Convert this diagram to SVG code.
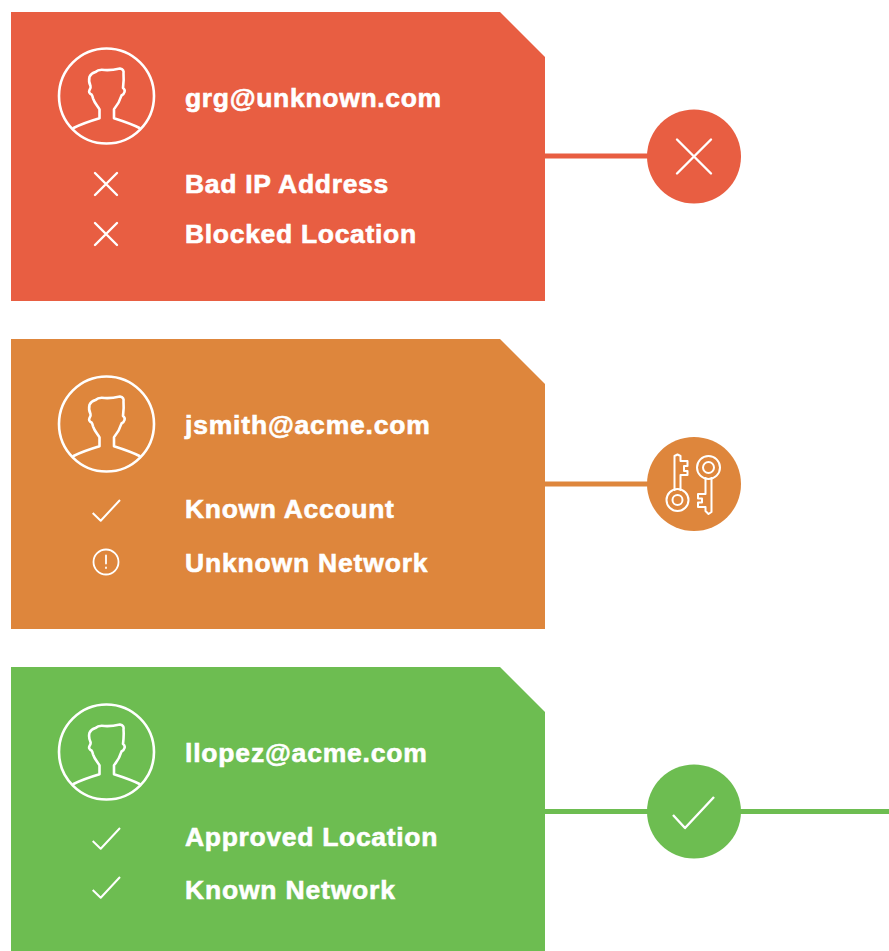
<svg xmlns="http://www.w3.org/2000/svg" width="889" height="951" viewBox="0 0 889 951">
<defs>
<style>
.t{font-family:"Liberation Sans",Arial,sans-serif;font-weight:700;font-size:26.5px;letter-spacing:.68px;fill:#fff;stroke:#fff;stroke-width:.6px}
.w{letter-spacing:.81px}
.i{fill:none;stroke:#fff;stroke-width:2.4;stroke-linejoin:round;stroke-linecap:round}
.m{fill:none;stroke:#fff;stroke-width:2;stroke-linejoin:round}
.c{stroke-width:5;fill:none}
</style>
<g id="person" class="i" style="stroke-width:2.6">
<circle cx="0" cy="0" r="47.500"/>
<path d="M-33 32C-25 28 -16 25 -7 22.300V13.300C-9 10 -12 7 -13.500 2.300C-14 0 -14.500 -1 -15 -1.500C-17.500 -2.500 -17.800 -4.500 -17 -6C-16 -7.500 -15.500 -8.500 -16 -10C-17.500 -13 -17.800 -16 -17 -19.300C-15.500 -22.500 -13 -23.500 -11 -24C-8.500 -26.500 -5 -26.500 -2 -26C4 -25.500 9 -26.500 13.500 -27.500C16.500 -27 17.500 -25 17 -22.500C17.500 -17 17 -12 16.500 -8C18 -7 18.500 -5.500 18 -4C17.500 -2 16 -1 15 -.5C14 3 11 9 7.500 13.300V22.300C16 25 25 28 33 32"/>
</g>
<path id="x" class="i" d="M-11 -11L11 11M11 -11L-11 11"/>
<path id="check" class="m" d="M-13.300 3L-5.300 10.700L14 -10"/>
</defs>

<g id="connectors">
<path class="c" stroke="#e85e42" d="M545 156H650"/>
<path class="c" stroke="#de863c" d="M545 484H650"/>
<path class="c" stroke="#6dbd51" d="M545 811.500H889"/>
</g>

<g id="node-grg">
<path fill="#e85e42" d="M11 12H500L545 57V301H11Z"/>
<use href="#person" x="106.500" y="96"/>
<text class="t" x="185" y="107">grg@unknown.com</text>
<use href="#x" x="106" y="184"/>
<text class="t" x="185" y="193">Bad IP Address</text>
<use href="#x" x="106" y="234"/>
<text class="t" x="185" y="243">Blocked Location</text>
</g>

<g id="status-blocked">
<circle cx="694" cy="156.500" r="47" fill="#e85e42"/>
<path class="i" d="M677 139.500L711 173.500M711 139.500L677 173.500"/>
</g>

<g id="node-jsmith">
<path fill="#de863c" d="M11 339H500L545 384V629H11Z"/>
<use href="#person" x="106.500" y="424"/>
<text class="t w" x="185" y="434">jsmith@acme.com</text>
<use href="#check" x="106" y="510"/>
<text class="t" x="185" y="518">Known Account</text>
<g class="i" style="stroke-width:1.800">
<circle cx="106" cy="562" r="12.500"/>
<path d="M106 555.500V563.500M106 567.500V568"/>
</g>
<text class="t w" x="185" y="572">Unknown Network</text>
</g>

<g id="status-keys">
<circle cx="694" cy="484" r="47" fill="#de863c"/>
<g class="i" style="stroke-width:2">
<path d="M674.500 490V456L677.500 454.500L680.500 456V461H687.500V466H684V471H687.500V475H680.500V490"/>
<circle cx="677.500" cy="500" r="11"/>
<circle cx="677.500" cy="500" r="5"/>
<path d="M711.500 478V512L708.500 514L705.500 511V507H698V502.500H702V498.500H698V494H705.500V478"/>
<circle cx="708.500" cy="467.500" r="11.500"/>
<circle cx="708.500" cy="467.500" r="5.500"/>
</g>
</g>

<g id="node-llopez">
<path fill="#6dbd51" d="M11 667H500L545 712V951H11Z"/>
<use href="#person" x="106.500" y="752"/>
<text class="t w" x="185" y="762">llopez@acme.com</text>
<use href="#check" x="106" y="838"/>
<text class="t" x="185" y="846">Approved Location</text>
<use href="#check" x="106" y="887"/>
<text class="t w" x="185" y="899">Known Network</text>
</g>

<g id="status-approved">
<circle cx="694" cy="811.500" r="47" fill="#6dbd51"/>
<path class="m" style="stroke-width:2.400" d="M673 815L685 828L714 797"/>
</g>
</svg>
